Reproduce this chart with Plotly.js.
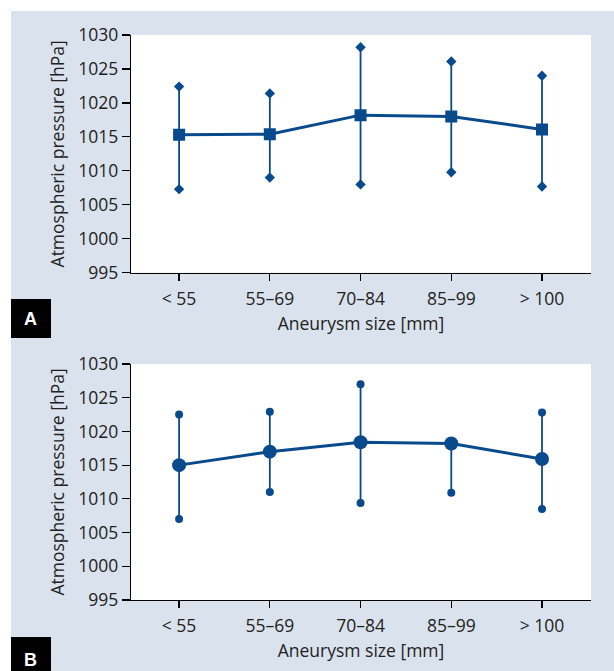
<!DOCTYPE html>
<html>
<head>
<meta charset="utf-8">
<script src="https://cdn.plot.ly/plotly-3.0.1.min.js"></script>
<style>
  html, body { margin: 0; padding: 0; background: #ffffff; width: 614px; height: 671px; overflow: hidden; }
  #chart { position: absolute; left: 11px; top: 11px; width: 603px; height: 660px; }
</style>
</head>
<body>
<div id="chart"></div>
<script>
// ---- data ----
const categories = ['< 55', '55–69', '70–84', '85–99', '> 100'];

const meanA  = [1015.3, 1015.4, 1018.2, 1018.0, 1016.1];
const upperA = [1022.4, 1021.4, 1028.2, 1026.1, 1024.0];
const lowerA = [1007.3, 1009.0, 1008.0, 1009.8, 1007.7];

const meanB  = [1015.0, 1017.0, 1018.4, 1018.2, 1015.9];
const upperB = [1022.5, 1022.9, 1027.0, null,   1022.8];
const lowerB = [1007.0, 1011.0, 1009.4, 1010.9, 1008.5];

const yTickVals = [995, 1000, 1005, 1010, 1015, 1020, 1025, 1030];
const xTitle = 'Aneurysm size [mm]';
const yTitle = 'Atmospheric pressure [hPa]';
const panelLabels = ['A', 'B'];

// ---- styling ----
const BLUE = '#084a8c';
const BG = '#dae3ed';
const TXT = '#222222';
const FONT = 'Open Sans, Noto Sans, sans-serif';
const FS = 17.5;

function whiskers(mean, up, lo, xa, ya) {
  const xs = [], ys = [];
  categories.forEach((c, i) => {
    const top = (up[i] == null) ? mean[i] : up[i];
    const bot = (lo[i] == null) ? mean[i] : lo[i];
    xs.push(c, c, null); ys.push(bot, top, null);
  });
  return { type: 'scatter', mode: 'lines', x: xs, y: ys, xaxis: xa, yaxis: ya,
           line: { color: BLUE, width: 1.8 }, hoverinfo: 'skip', showlegend: false };
}
function ends(up, lo, xa, ya, symbol, size) {
  const xs = [], ys = [];
  categories.forEach((c, i) => {
    if (up[i] != null) { xs.push(c); ys.push(up[i]); }
    if (lo[i] != null) { xs.push(c); ys.push(lo[i]); }
  });
  return { type: 'scatter', mode: 'markers', x: xs, y: ys, xaxis: xa, yaxis: ya,
           marker: { color: BLUE, symbol: symbol, size: size }, showlegend: false };
}
function means(mean, xa, ya, symbol, size) {
  return { type: 'scatter', mode: 'lines+markers', x: categories, y: mean, xaxis: xa, yaxis: ya,
           line: { color: BLUE, width: 3 }, marker: { color: BLUE, symbol: symbol, size: size },
           showlegend: false };
}

const traces = [
  whiskers(meanA, upperA, lowerA, 'x', 'y'),
  ends(upperA, lowerA, 'x', 'y', 'diamond', 8),
  means(meanA, 'x', 'y', 'square', 12),
  whiskers(meanB, upperB, lowerB, 'x2', 'y2'),
  ends(upperB, lowerB, 'x2', 'y2', 'circle', 8),
  means(meanB, 'x2', 'y2', 'circle', 14)
];

function xAxis(anchor) {
  return {
    anchor: anchor, type: 'category', categoryorder: 'array', categoryarray: categories,
    range: [-0.53, 4.54], showline: true, linecolor: '#000', linewidth: 1.2,
    ticks: 'outside', ticklen: 7, tickcolor: '#000', tickwidth: 1.2,
    showgrid: false, zeroline: false, ticklabelstandoff: 3,
    tickfont: { family: FONT, size: FS, color: TXT },
    title: { text: xTitle, font: { family: FONT, size: FS, color: TXT }, standoff: 8 }
  };
}
function yAxis(anchor, domain) {
  return {
    anchor: anchor, domain: domain, range: [995, 1030], tickvals: yTickVals,
    showline: true, linecolor: '#000', linewidth: 1.2,
    ticks: 'outside', ticklen: 8, tickcolor: '#000', tickwidth: 1.2,
    showgrid: false, zeroline: false,
    tickfont: { family: FONT, size: FS, color: TXT },
    title: { text: yTitle, font: { family: FONT, size: FS, color: TXT }, standoff: 9 }
  };
}

const shapes = [], annotations = [];
const boxes = [[0.5327, 0.4637], [-0.0655, -0.1345]];
panelLabels.forEach((lab, i) => {
  shapes.push({ type: 'rect', xref: 'paper', yref: 'paper', x0: -0.2609, x1: -0.1739,
                y0: boxes[i][1], y1: boxes[i][0], fillcolor: '#000', line: { width: 0 } });
  annotations.push({ xref: 'paper', yref: 'paper', x: -0.2174, y: (boxes[i][0] + boxes[i][1]) / 2 - (i ? 0.006 : 0),
                     text: '<b>' + lab + '</b>', showarrow: false, xanchor: 'center', yanchor: 'middle',
                     font: { family: 'Liberation Sans, Arial, sans-serif', size: 18, color: '#fff' } });
});

const layout = {
  width: 603, height: 660,
  margin: { l: 120, r: 23, t: 24, b: 71 },
  paper_bgcolor: BG, plot_bgcolor: '#ffffff',
  font: { family: FONT, color: TXT },
  xaxis: xAxis('y'), yaxis: yAxis('x', [0.5793, 1]),
  xaxis2: xAxis('y2'), yaxis2: yAxis('x2', [0, 0.4177]),
  shapes: shapes, annotations: annotations, showlegend: false
};

Plotly.newPlot('chart', traces, layout, { displayModeBar: false, staticPlot: true });
</script>
</body>
</html>
